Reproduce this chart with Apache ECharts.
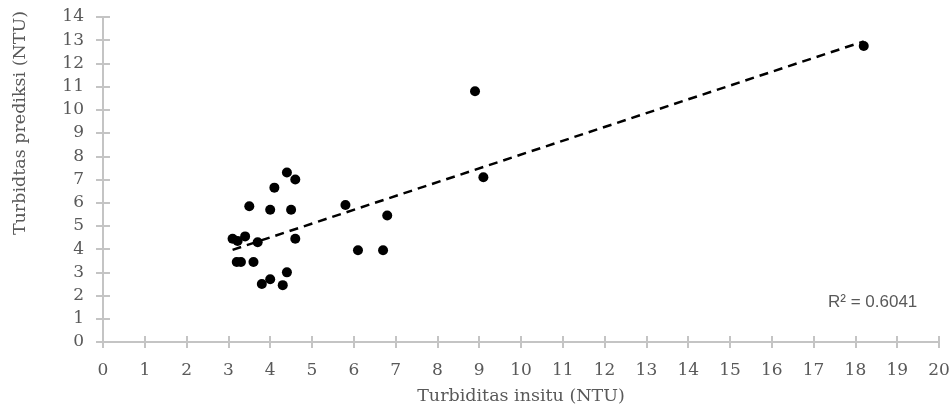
<!DOCTYPE html>
<html>
<head>
<meta charset="utf-8">
<script src="https://cdn.jsdelivr.net/npm/echarts@6/dist/echarts.min.js"></script>
<style>
  html, body { margin: 0; padding: 0; background: #fff; }
  #chart { width: 952px; height: 405px; }
</style>
</head>
<body>
<div id="chart"></div>
<script>
  // titik pengamatan (insitu vs prediksi)
  var insitu = [3.1, 3.22, 3.4, 3.7, 4.6, 3.2, 3.3, 3.6, 4.4, 4.0, 3.8, 4.3, 3.5, 4.0, 4.5, 4.1, 4.4, 4.6, 5.8, 6.8, 6.1, 6.7, 9.1, 8.9, 18.2]
  var prediksi = [4.45, 4.35, 4.55, 4.3, 4.45, 3.45, 3.45, 3.45, 3.0, 2.7, 2.5, 2.45, 5.85, 5.7, 5.7, 6.65, 7.3, 7.0, 5.9, 5.45, 3.95, 3.95, 7.1, 10.8, 12.75]
  // garis tren linear (ujung-ujungnya)
  var trendX = [3.1, 18.2]
  var trendY = [3.97, 12.95]
  var r2Label = 'R² = 0.6041'

  var gray = '#595959'
  var axisGray = '#c4c4c4'
  var serif = '"DejaVu Serif", "Liberation Serif", serif'

  var points = insitu.map(function (x, i) { return [x, prediksi[i]] })
  var trend = trendX.map(function (x, i) { return [x, trendY[i]] })

  var chart = echarts.init(document.getElementById('chart'))
  var option = {
    animation: false,
    grid: { left: 103, right: 13, top: 17, bottom: 63, containLabel: false, outerBoundsMode: 'none' },
    xAxis: [
      {
        type: 'value', min: 0, max: 20, interval: 1,
        name: 'Turbiditas insitu (NTU)',
        nameLocation: 'middle',
        nameGap: 45,
        nameTextStyle: { color: gray, fontFamily: serif, fontSize: 17.5 },
        axisLine: { lineStyle: { color: axisGray, width: 2 } },
        axisTick: { show: true, length: 6, lineStyle: { color: axisGray, width: 2 } },
        axisLabel: { color: gray, fontFamily: serif, fontSize: 17, margin: 20 },
        splitLine: { show: false }
      },
      {
        type: 'value', min: 0, max: 20, interval: 1, position: 'bottom', offset: 0,
        axisLine: { show: false },
        axisTick: { show: true, inside: true, length: 6, lineStyle: { color: axisGray, width: 2 } },
        axisLabel: { show: false },
        splitLine: { show: false }
      }
    ],
    yAxis: [
      {
        type: 'value', min: 0, max: 14, interval: 1,
        axisLine: { show: true, lineStyle: { color: axisGray, width: 2 } },
        axisTick: { show: true, length: 7, lineStyle: { color: axisGray, width: 2 } },
        axisLabel: { color: gray, fontFamily: serif, fontSize: 17, margin: 19 },
        splitLine: { show: false }
      },
      {
        type: 'value', min: 0, max: 14, interval: 1, position: 'left', offset: 0,
        axisLine: { show: false },
        axisTick: { show: true, inside: true, length: 7, lineStyle: { color: axisGray, width: 2 } },
        axisLabel: { show: false },
        splitLine: { show: false }
      }
    ],
    graphic: [
      {
        type: 'text', x: 20, y: 123, rotation: Math.PI / 2,
        style: { text: 'Turbidtas prediksi (NTU)', fill: gray, font: '17.5px ' + serif, textAlign: 'center', textVerticalAlign: 'middle' }
      },
      {
        type: 'text', x: 828, y: 302,
        style: { text: r2Label, fill: gray, font: '17px "Liberation Sans", Arial, sans-serif', textVerticalAlign: 'middle' }
      }
    ],
    series: [
      {
        type: 'line',
        data: trend,
        symbol: 'none',
        lineStyle: { color: '#000', width: 2.5, type: [9, 6] },
        z: 2
      },
      {
        type: 'scatter',
        data: points,
        symbol: 'circle',
        symbolSize: 10,
        itemStyle: { color: '#000', opacity: 1 },
        z: 3
      }
    ]
  }
  chart.setOption(option)
</script>
</body>
</html>
